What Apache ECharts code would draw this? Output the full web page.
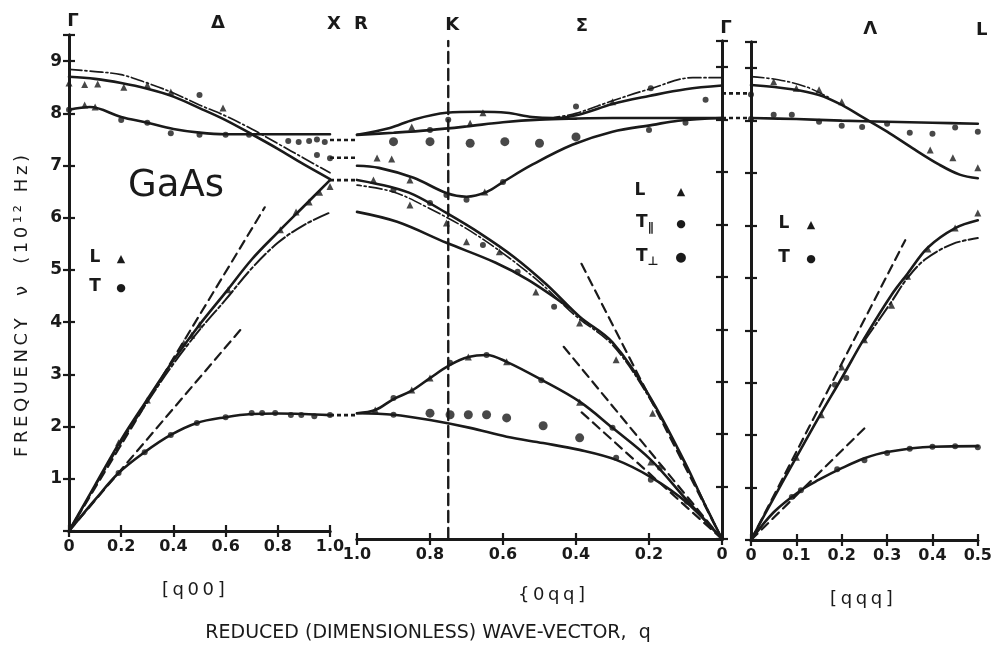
<!DOCTYPE html>
<html><head><meta charset="utf-8">
<script src="https://cdn.jsdelivr.net/npm/echarts@6/dist/echarts.min.js"></script>
<style>html,body{margin:0;padding:0;background:#fff}#c{width:995px;height:654px}</style>
</head><body><div id="c"></div>
<script>
// ---------- DATA: panel 1, [q00] (Gamma -> X) ----------
const q00_LO_a = [[0,8.70],[0.1,8.66],[0.2,8.58],[0.3,8.47],[0.4,8.32],[0.5,8.10],[0.6,7.87],[0.7,7.60],[0.8,7.32],[0.9,7.02],[1.0,6.74]];
const q00_LO_b = [[0,8.84],[0.1,8.80],[0.2,8.74],[0.3,8.58],[0.4,8.39],[0.5,8.16],[0.6,7.95],[0.7,7.70],[0.8,7.42],[0.9,7.14],[1.0,6.86]];
const q00_TO   = [[0,8.07],[0.08,8.12],[0.2,7.93],[0.3,7.82],[0.4,7.70],[0.5,7.63],[0.6,7.60],[0.8,7.60],[1.0,7.60]];
const q00_LA_a = [[0,0],[0.1,0.88],[0.2,1.75],[0.3,2.52],[0.4,3.27],[0.5,3.95],[0.6,4.57],[0.7,5.20],[0.8,5.72],[0.9,6.22],[1.0,6.72]];
const q00_LA_b = [[0,0],[0.1,0.86],[0.2,1.70],[0.3,2.47],[0.4,3.20],[0.5,3.85],[0.6,4.43],[0.7,5.03],[0.8,5.52],[0.9,5.86],[1.0,6.10]];
const q00_TA   = [[0,0],[0.1,0.60],[0.19,1.11],[0.29,1.51],[0.39,1.84],[0.49,2.07],[0.6,2.18],[0.7,2.24],[0.8,2.25],[0.9,2.24],[1.0,2.22]];
const q00_vL   = [[0,0],[0.75,6.2]];
const q00_vT   = [[0,0],[0.67,3.93]];
const q00_ptsL = [[0,8.58],[0.06,8.55],[0.11,8.56],[0.21,8.5],[0.3,8.54],[0.39,8.41],[0.59,8.1],[0.06,8.16],[0.1,8.12],
                  [0.19,1.69],[0.3,2.51],[0.44,3.6],[0.47,3.75],[0.5,3.95],[0.61,4.62],[0.81,5.77],[0.87,6.11],[0.92,6.3],[0.96,6.49],[1.0,6.6]];
const q00_ptsT = [[0,8.07],[0.2,7.87],[0.3,7.82],[0.39,7.62],[0.5,7.59],[0.6,7.59],[0.69,7.59],[0.5,8.35],
                  [0.84,7.47],[0.88,7.45],[0.92,7.47],[0.95,7.5],[0.98,7.45],[0.95,7.2],[1.0,7.14],
                  [0.19,1.11],[0.29,1.51],[0.39,1.84],[0.49,2.07],[0.6,2.18],[0.7,2.26],[0.74,2.26],[0.79,2.26],[0.85,2.22],[0.89,2.22],[0.94,2.2],[1.0,2.22]];
const linkX = [7.49, 7.15, 6.72, 2.22];

// ---------- DATA: panel 2, [0qq] (Gamma -> K -> X), q runs 1.0 -> 0 ----------
const qq_LO_a  = [[0,8.65],[0.1,8.58],[0.2,8.45],[0.3,8.3],[0.39,8.1],[0.46,8.03],[0.52,8.05],[0.59,8.13],[0.665,8.15],[0.755,8.13],[0.845,8.0],[0.91,7.84],[1.0,7.71]];
const qq_LO_b  = [[0,8.8],[0.08,8.8],[0.2,8.58],[0.3,8.36],[0.4,8.12],[0.46,8.04]];
const qq_TO_a  = [[0,8.03],[0.3,8.03],[0.4,8.02],[0.5,8.0],[0.6,7.95],[0.7,7.87],[0.8,7.8],[0.9,7.75],[1.0,7.71]];
const qq_TO_b  = [[0,8.03],[0.12,7.98],[0.19,7.9],[0.3,7.77],[0.41,7.52],[0.52,7.14],[0.6,6.81],[0.645,6.62],[0.7,6.53],[0.755,6.6],[0.845,6.89],[0.94,7.08],[1.0,7.12]];
const qq_LA_a  = [[0,0],[0.05,0.7],[0.1,1.44],[0.2,2.74],[0.3,3.75],[0.39,4.24],[0.48,4.85],[0.57,5.38],[0.665,5.84],[0.755,6.22],[0.845,6.57],[0.91,6.72],[1.0,6.85]];
const qq_LA_b  = [[0,0],[0.1,1.42],[0.2,2.7],[0.3,3.7],[0.4,4.25],[0.5,4.9],[0.6,5.45],[0.7,5.92],[0.8,6.3],[0.9,6.62],[1.0,6.75]];
const qq_LA_c  = [[0.42,4.42],[0.53,4.94],[0.62,5.27],[0.755,5.65],[0.89,6.05],[1.0,6.24]];
const qq_TA_a  = [[0,0],[0.096,0.74],[0.195,1.51],[0.3,2.12],[0.39,2.62],[0.495,3.04],[0.59,3.38],[0.645,3.51],[0.695,3.47],[0.745,3.32],[0.8,3.07],[0.85,2.83],[0.9,2.67],[0.95,2.46],[1.0,2.40]];
const qq_TA_b  = [[0,0],[0.096,0.69],[0.195,1.18],[0.29,1.51],[0.39,1.70],[0.49,1.83],[0.59,1.95],[0.69,2.12],[0.8,2.27],[0.9,2.37],[1.0,2.40]];
const qq_v1    = [[0,0],[0.385,5.25]];
const qq_v2    = [[0,0],[0.44,3.72]];
const qq_v3    = [[0,0],[0.39,2.45]];
const qq_K     = 0.75;
const qq_ptsL  = [[0.945,7.27],[0.905,7.25],[0.85,7.86],[0.69,7.93],[0.655,8.13],[0.3,8.34],[0.855,6.85],[0.65,6.62],
                  [0.955,6.85],[0.855,6.37],[0.755,6.03],[0.70,5.67],[0.61,5.48],[0.51,4.71],[0.39,4.12],[0.29,3.42],[0.19,2.4],
                  [0.95,2.46],[0.85,2.84],[0.80,3.07],[0.695,3.47],[0.59,3.38],[0.39,2.61],[0.195,1.47]];
const qq_ptsTp = [[0.80,7.8],[0.75,8.0],[0.40,8.25],[0.195,8.6],[0.045,8.38],[0.2,7.8],[0.1,7.94],[0.755,6.56],[0.70,6.47],[0.6,6.81],
                  [0.90,6.66],[0.80,6.41],[0.655,5.61],[0.56,5.1],[0.46,4.43],[0.90,2.69],[0.745,3.36],[0.645,3.51],[0.495,3.03],
                  [0.30,2.12],[0.096,0.71],[0.90,2.37],[0.29,1.55],[0.195,1.13],[0.17,1.36]];
const qq_ptsTs = [[0.90,7.58],[0.80,7.58],[0.69,7.55],[0.595,7.58],[0.50,7.55],[0.40,7.67],
                  [0.80,2.40],[0.745,2.37],[0.695,2.37],[0.645,2.37],[0.59,2.31],[0.49,2.16],[0.39,1.93]];
const linkG = [8.5, 8.03];

// ---------- DATA: panel 3, [qqq] (Gamma -> L) ----------
const qqq_LO_a = [[0,8.68],[0.09,8.6],[0.15,8.49],[0.2,8.3],[0.245,8.07],[0.3,7.79],[0.355,7.48],[0.415,7.16],[0.46,6.97],[0.5,6.9]];
const qqq_LO_b = [[0,8.84],[0.06,8.78],[0.12,8.65],[0.17,8.45]];
const qqq_TO   = [[0,8.05],[0.1,8.03],[0.2,8.0],[0.3,7.98],[0.4,7.96],[0.5,7.94]];
const qqq_LA_a = [[0,0],[0.05,0.8],[0.1,1.58],[0.15,2.35],[0.2,3.09],[0.25,3.85],[0.31,4.68],[0.345,5.08],[0.39,5.58],[0.45,5.95],[0.5,6.1]];
const qqq_LA_b = [[0.25,3.8],[0.31,4.55],[0.345,5.0],[0.385,5.36],[0.445,5.65],[0.5,5.76]];
const qqq_TA   = [[0,0],[0.05,0.53],[0.11,0.95],[0.15,1.15],[0.2,1.37],[0.25,1.56],[0.3,1.68],[0.4,1.78],[0.5,1.79]];
const qqq_vL   = [[0,0],[0.34,5.72]];
const qqq_vT   = [[0,0],[0.257,2.19]];
const qqq_ptsL = [[0.05,8.74],[0.1,8.62],[0.15,8.59],[0.2,8.36],[0.395,7.44],[0.445,7.29],[0.5,7.1],[0.5,6.24],
                  [0.45,5.95],[0.39,5.55],[0.345,5.03],[0.31,4.48],[0.25,3.82],[0.2,3.3],[0.155,2.39],[0.1,1.58]];
const qqq_ptsT = [[0,8.5],[0,8.03],[0.05,8.11],[0.09,8.11],[0.15,7.98],[0.2,7.9],[0.245,7.88],[0.3,7.94],[0.35,7.77],[0.4,7.75],[0.45,7.87],[0.5,7.79],
                  [0.21,3.09],[0.185,2.96],[0.5,1.77],[0.45,1.79],[0.4,1.78],[0.35,1.74],[0.3,1.66],[0.25,1.52],[0.19,1.35],[0.11,0.95],[0.09,0.82]];

// ---------- TEXT ----------
const pointLabels = [['Γ',0,0],['Δ',0,0.555],['X',0,1.0],['R',1,1.0],['K',1,0.75],['Σ',1,0.395],['Γ',1,0],['Λ',2,0.254],['L',2,0.5]];
const dirLabels = ['[q00]','{0qq]','[qqq]'];
const xTitle = 'REDUCED (DIMENSIONLESS) WAVE-VECTOR,  q';
const yTitle = 'FREQUENCY  ν  (10¹² Hz)';

// ---------- CHART ----------
const INK = '#1a1a1a';
const FONT = 'DejaVu Sans';
const grids = [
  {left:69, top:35, width:261, height:496},
  {left:357, top:41, width:365, height:498},
  {left:751, top:42, width:227, height:498}
];
const xMax = [1, 1, 0.5], xInt = [0.2, 0.2, 0.1];
const xAxis = [], yAxis = [];
for (let g = 0; g < 3; g++) {
  const base = {
    gridIndex:g, type:'value', min:0, max:xMax[g], interval:xInt[g], inverse: g===1,
    axisLine:{show:true, lineStyle:{color:INK, width:3}},
    axisTick:{show:true, inside:true, length:6, lineStyle:{color:INK, width:2.2}},
    splitLine:{show:false}
  };
  xAxis.push(Object.assign({}, base, {position:'bottom',
    axisLabel:{show:true, margin:8, color:INK, fontFamily:FONT, fontWeight:'bold', fontSize:16,
      formatter:v => (v===0 ? '0' : v.toFixed(1))}}));
  xAxis.push(Object.assign({}, base, {position:'top', axisLabel:{show:false}}));
  const ybase = {
    gridIndex:g, type:'value', min:0, max:9.5, interval:1,
    axisLine:{show:true, lineStyle:{color:INK, width:3}},
    axisTick:{show:true, inside:true, length:6, lineStyle:{color:INK, width:2.2}},
    splitLine:{show:false}
  };
  yAxis.push(Object.assign({}, ybase, {position:'left',
    axisLabel:{show:g===0, margin:7, color:INK, fontFamily:FONT, fontWeight:'bold', fontSize:17,
      formatter:v => (v>0 && Number.isInteger(v) ? String(v) : '')}}));
  yAxis.push(Object.assign({}, ybase, {position:'right', axisLabel:{show:false}}));
}

const series = [];
function line(data, g, o) {
  o = o || {};
  series.push({type:'line', xAxisIndex:2*g, yAxisIndex:2*g, data:data, symbol:'none',
    smooth: o.smooth === undefined ? 0.35 : o.smooth, silent:true, z:3,
    lineStyle:{color:INK, width:o.w || 2.6, type:o.type || 'solid', cap:'round'}});
}
// dotted link between panels: from x0 (panel edge) to x1 (beyond it), drawn at frequency f
function links(vals, g, x0, x1) {
  series.push({type:'custom', xAxisIndex:2*g, yAxisIndex:2*g, clip:false, silent:true, z:3,
    data: vals.map(f => [x0, f]),
    renderItem:(params, api) => {
      const f = api.value(1);
      const a = api.coord([x0, f]), b = api.coord([x1, f]);
      return {type:'line', shape:{x1:a[0], y1:a[1], x2:b[0], y2:b[1]},
        style:{stroke:INK, lineWidth:2.6, lineDash:[4,3]}};
    }});
}
function pts(data, g, sym, size) {
  series.push({type:'scatter', xAxisIndex:2*g, yAxisIndex:2*g, data:data, symbol:sym, symbolSize:size,
    silent:true, z:4, clip:false, itemStyle:{color:INK}});
}
const DD = [13,3,2,3];   // dash-dot theory curve
const DASH = [9,6];
// panel 1
line(q00_LO_a,0); line(q00_LO_b,0,{w:1.7,type:DD}); line(q00_TO,0);
line(q00_LA_a,0); line(q00_LA_b,0,{w:2,type:[16,3,3,3]}); line(q00_TA,0);
line(q00_vL,0,{smooth:false,type:DASH,w:2.2}); line(q00_vT,0,{smooth:false,type:DASH,w:2.2});
links(linkX, 0, 1.0, 1.105);
pts(q00_ptsL,0,'triangle',7); pts(q00_ptsT,0,'circle',6);
// panel 2
line(qq_LO_a,1); line(qq_LO_b,1,{w:1.7,type:DD}); line(qq_TO_a,1); line(qq_TO_b,1);
line(qq_LA_a,1); line(qq_LA_b,1,{w:1.6,type:DD}); line(qq_LA_c,1);
line(qq_TA_a,1); line(qq_TA_b,1);
line(qq_v1,1,{smooth:false,type:DASH,w:2.2}); line(qq_v2,1,{smooth:false,type:DASH,w:2.2}); line(qq_v3,1,{smooth:false,type:DASH,w:2.2});
line([[qq_K,0],[qq_K,9.5]],1,{smooth:false,type:[11,6],w:2.4});
links(linkG, 1, 0, -0.08);
pts(qq_ptsL,1,'triangle',7); pts(qq_ptsTp,1,'circle',6); pts(qq_ptsTs,1,'circle',9);
// panel 3
line(qqq_LO_a,2); line(qqq_LO_b,2,{w:1.6,type:DD}); line(qqq_TO,2);
line(qqq_LA_a,2); line(qqq_LA_b,2,{w:2,type:[16,3,3,3]}); line(qqq_TA,2);
line(qqq_vL,2,{smooth:false,type:DASH,w:2.2}); line(qqq_vT,2,{smooth:false,type:DASH,w:2.2});
pts(qqq_ptsL,2,'triangle',7); pts(qqq_ptsT,2,'circle',6);

const chart = echarts.init(document.getElementById('c'), null, {renderer:'canvas'});
chart.setOption({animation:false, backgroundColor:'#fff', grid:grids, xAxis:xAxis, yAxis:yAxis, series:series});

// text annotations, positioned from the axes
const T = (text, x, y, size, extra) => Object.assign({type:'text', x:x, y:y, silent:true,
  style:Object.assign({text:text, fill:INK, font:(extra&&extra.weight||'bold')+' '+size+'px "'+FONT+'"',
    textAlign:'center', textVerticalAlign:'middle'}, extra&&extra.style||{})}, extra&&extra.el||{});
const spaced = s => s.split('').join('\u2009');
const graphic = [];
pointLabels.forEach(([t,g,q]) => {
  const px = chart.convertToPixel({xAxisIndex:2*g}, q) + 4;
  graphic.push(T(t, px, 21 + 0.01*px, 18));
});
const dirX = [0.48, 0.5, 0.25];
dirLabels.forEach((t,g) => {
  const px = chart.convertToPixel({xAxisIndex:2*g}, dirX[g]);
  graphic.push(T(spaced(t), px + [-1,12,-3][g], [590,595,599][g], 18, {weight:'normal'}));
});
graphic.push(T(xTitle, 428, 633, 19, {weight:'normal'}));
graphic.push(T(spaced(yTitle), 22, 306, 18, {weight:'normal', el:{rotation:Math.PI/2}}));
graphic.push(T('GaAs', 176, 186, 37, {weight:'normal'}));
// legends
graphic.push(T('L', 95, 258, 17)); graphic.push(T('▲', 121, 259, 11));
graphic.push(T('T', 95, 287, 17)); graphic.push(T('●', 121, 288, 11));
graphic.push(T('L', 640, 191, 17)); graphic.push(T('▲', 681, 192, 11));
graphic.push({type:'text', x:636, y:223, silent:true, style:{text:'T{s|∥}', fill:INK, font:'bold 17px "'+FONT+'"',
  textVerticalAlign:'middle', rich:{s:{font:'bold 12px "'+FONT+'"', fill:INK, padding:[10,0,0,0]}}}});
graphic.push(T('●', 681, 224, 11));
graphic.push({type:'text', x:636, y:257, silent:true, style:{text:'T{s|⊥}', fill:INK, font:'bold 17px "'+FONT+'"',
  textVerticalAlign:'middle', rich:{s:{font:'bold 12px "'+FONT+'"', fill:INK, padding:[10,0,0,0]}}}});
graphic.push(T('●', 681, 258, 13));
graphic.push(T('L', 784, 224, 17)); graphic.push(T('▲', 811, 225, 11));
graphic.push(T('T', 784, 258, 17)); graphic.push(T('●', 811, 259, 11));
chart.setOption({graphic:graphic});
</script></body></html>
